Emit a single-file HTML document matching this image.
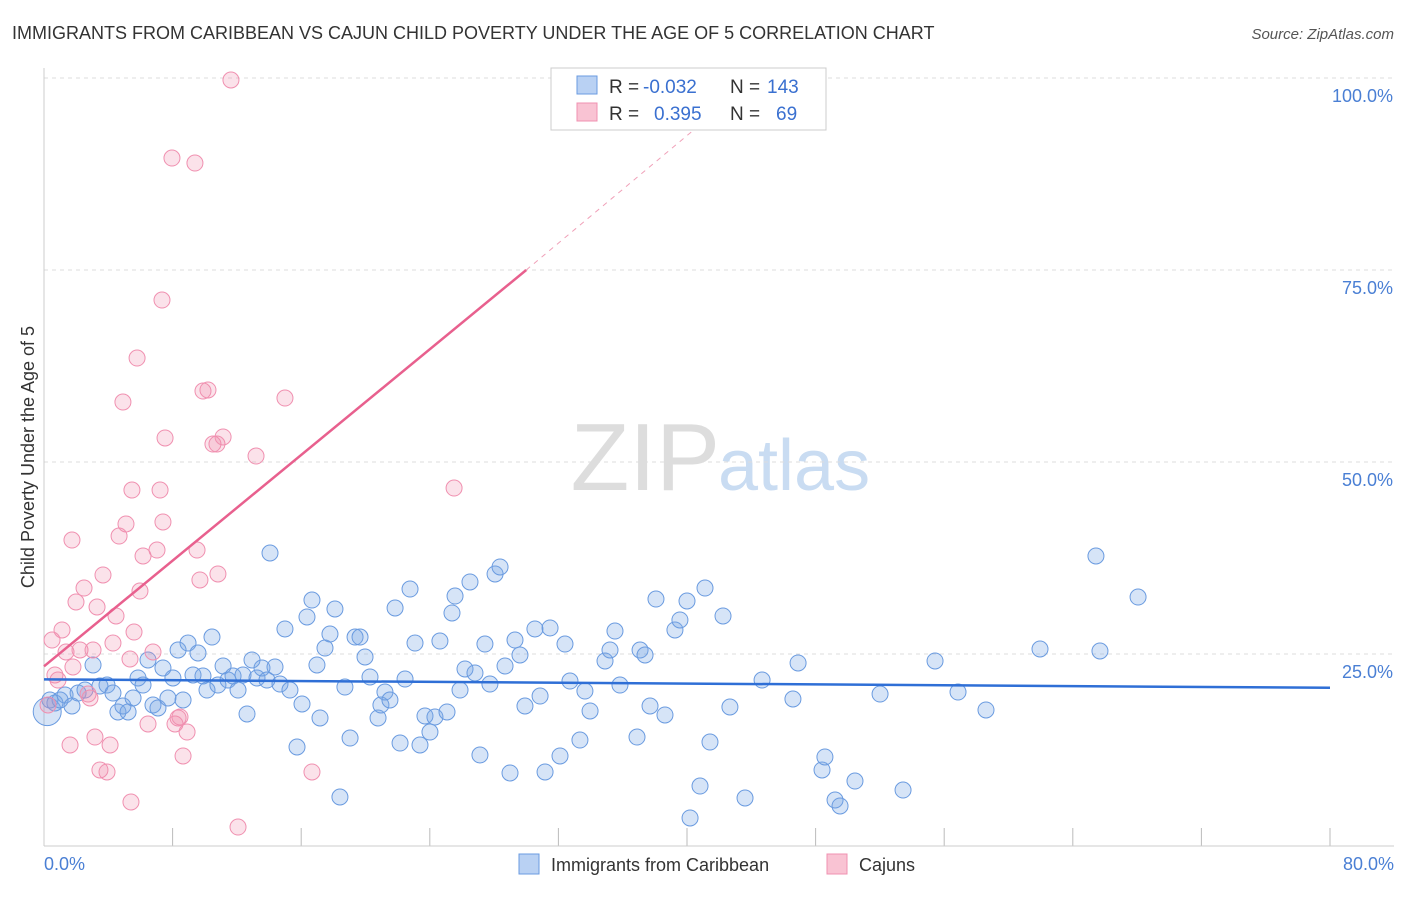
<!DOCTYPE html>
<html><head><meta charset="utf-8"><style>
body{margin:0;background:#fff;font-family:"Liberation Sans",sans-serif;}
svg text{font-family:"Liberation Sans",sans-serif;}
</style></head><body>
<svg width="1406" height="892" id="chart">
<text x="12" y="39" font-size="18" fill="#333">IMMIGRANTS FROM CARIBBEAN VS CAJUN CHILD POVERTY UNDER THE AGE OF 5 CORRELATION CHART</text>
<text x="1394" y="39" font-size="15" fill="#555" text-anchor="end" font-style="italic">Source: ZipAtlas.com</text>
<text x="720" y="490" font-size="96" fill="#ddd" text-anchor="end" font-family="Liberation Serif">ZIP</text>
<text x="718" y="490" font-size="72" fill="#c9dcf2">atlas</text>
<g id="grid"></g>
<line x1="44" y1="68" x2="44" y2="846" stroke="#ccc"/>
<line x1="44" y1="846" x2="1394" y2="846" stroke="#ccc"/>
<text transform="translate(34,457) rotate(-90)" font-size="18" fill="#333" text-anchor="middle">Child Poverty Under the Age of 5</text>
<text x="44" y="870" font-size="18" fill="#4a7fd4">0.0%</text>
<text x="1394" y="870" font-size="18" fill="#4a7fd4" text-anchor="end">80.0%</text>
<g id="pts"></g>
<g id="trends"></g>
<g>
<rect x="551" y="68" width="275" height="62" fill="#fff" stroke="#ccc"/>
<rect x="577" y="76" width="20" height="18" fill="#b9d1f3" stroke="#6a9be0"/>
<rect x="577" y="103" width="20" height="18" fill="#f9c3d3" stroke="#f090b0"/>
<text x="609" y="93" font-size="19" fill="#333">R = </text><text x="643" y="93" font-size="19" fill="#3a70d0">-0.032</text>
<text x="730" y="93" font-size="19" fill="#333">N = </text><text x="767" y="93" font-size="19" fill="#3a70d0">143</text>
<text x="609" y="120" font-size="19" fill="#333">R = </text><text x="654" y="120" font-size="19" fill="#3a70d0">0.395</text>
<text x="730" y="120" font-size="19" fill="#333">N = </text><text x="776" y="120" font-size="19" fill="#3a70d0">69</text>
</g>
<g>
<rect x="519" y="854" width="20" height="20" fill="#b9d1f3" stroke="#6a9be0"/>
<text x="551" y="871" font-size="18" fill="#333">Immigrants from Caribbean</text>
<rect x="827" y="854" width="20" height="20" fill="#f9c3d3" stroke="#f090b0"/>
<text x="859" y="871" font-size="18" fill="#333">Cajuns</text>
</g>
</svg>
<script>
const yTicks=[25,50,75,100];
const xTicks=[0,8,16,24,32,40,48,56,64,72,80];
const bluePx=[[50,700],[55,703],[60,700],[65,695],[72,706],[78,693],[85,690],[93,665],[100,686],[107,685],[113,693],[118,712],[123,706],[128,712],[133,698],[138,678],[143,685],[148,660],[153,705],[158,708],[163,668],[168,698],[173,678],[178,650],[183,700],[188,643],[193,675],[198,653],[203,676],[207,690],[212,637],[218,685],[223,666],[228,680],[233,676],[238,690],[243,675],[247,714],[252,660],[257,678],[262,668],[267,680],[270,553],[275,667],[280,684],[285,629],[290,690],[297,747],[302,704],[307,617],[312,600],[317,665],[320,718],[325,648],[330,634],[335,609],[340,797],[345,687],[350,738],[355,637],[360,637],[365,657],[370,677],[378,718],[381,705],[385,692],[390,700],[395,608],[400,743],[405,679],[410,589],[415,643],[420,745],[425,716],[430,732],[435,717],[440,641],[447,712],[452,613],[455,596],[460,690],[465,669],[470,582],[475,673],[480,755],[485,644],[490,684],[495,574],[500,567],[505,666],[510,773],[515,640],[520,655],[525,706],[535,629],[540,696],[545,772],[550,628],[560,756],[565,644],[570,681],[580,740],[585,691],[590,711],[605,661],[610,650],[615,631],[620,685],[637,737],[640,650],[645,655],[650,706],[656,599],[665,715],[675,630],[680,620],[687,601],[690,818],[700,786],[705,588],[710,742],[723,616],[730,707],[745,798],[762,680],[793,699],[798,663],[822,770],[825,757],[835,800],[840,806],[855,781],[880,694],[903,790],[935,661],[958,692],[986,710],[1040,649],[1096,556],[1100,651],[1138,597]];
const pinkPx=[[48,705],[52,640],[55,675],[58,680],[62,630],[66,652],[70,745],[72,540],[73,667],[76,602],[80,650],[84,588],[88,694],[90,698],[93,650],[95,737],[97,607],[100,770],[103,575],[107,772],[110,745],[113,643],[116,616],[119,536],[123,402],[126,524],[130,659],[131,802],[132,490],[134,632],[137,358],[140,591],[143,556],[148,724],[153,652],[157,550],[160,490],[162,300],[163,522],[165,438],[172,158],[175,724],[178,718],[180,717],[183,756],[187,732],[195,163],[197,550],[200,580],[203,391],[208,390],[213,444],[217,444],[218,574],[223,437],[231,80],[238,827],[256,456],[285,398],[312,772],[454,488]];
// data values (x %, y %)
const blueX=bluePx.map(p=>+((p[0]-44)/1286*80).toFixed(2));
const blueY=bluePx.map(p=>+((846-p[1])/768*100).toFixed(2));
const pinkX=pinkPx.map(p=>+((p[0]-44)/1286*80).toFixed(2));
const pinkY=pinkPx.map(p=>+((846-p[1])/768*100).toFixed(2));
const blueTrend=[[0,21.7],[80,20.6]];
const pinkTrend=[[0,23.4],[30,75],[42,96]];
function sx(v){return 44+v/80*1286;}
function sy(v){return 846-v/100*768;}
const NS='http://www.w3.org/2000/svg';
const grid=document.getElementById('grid');
yTicks.forEach(t=>{
 const l=document.createElementNS(NS,'line');
 l.setAttribute('x1',44);l.setAttribute('x2',1394);l.setAttribute('y1',sy(t));l.setAttribute('y2',sy(t));
 l.setAttribute('stroke','#ddd');l.setAttribute('stroke-dasharray','4,4');
 
 
 grid.appendChild(l);
 const tx=document.createElementNS(NS,'text');
 tx.setAttribute('x',1393);tx.setAttribute('y',sy(t)+24);tx.setAttribute('text-anchor','end');
 tx.setAttribute('font-size','18');tx.setAttribute('fill','#4a7fd4');tx.textContent=t.toFixed(1)+'%';
 
 
 grid.appendChild(tx);
});
xTicks.forEach(t=>{
 const l=document.createElementNS(NS,'line');
 l.setAttribute('x1',sx(t));l.setAttribute('x2',sx(t));l.setAttribute('y1',828);l.setAttribute('y2',846);
 l.setAttribute('stroke','#bbb');
 
 
 grid.appendChild(l);
});
const pts=document.getElementById('pts');
function dot(x,y,fill,stroke,name,r){
 const c=document.createElementNS(NS,'circle');
 c.setAttribute('cx',sx(x));c.setAttribute('cy',sy(y));c.setAttribute('r',r||8);
 c.setAttribute('fill',fill);c.setAttribute('stroke',stroke);c.setAttribute('stroke-width','1');
 
 
 pts.appendChild(c);
}
dot(0.2,17.5,'rgba(120,165,230,0.3)','#6a9be0','blue-point-large',14);
blueX.forEach((x,i)=>dot(x,blueY[i],'rgba(120,165,230,0.3)','#6a9be0','blue-point'));
pinkX.forEach((x,i)=>dot(x,pinkY[i],'rgba(240,140,170,0.25)','#f090b0','pink-point'));
const tr=document.getElementById('trends');
function line(a,b,color,name,dash){
 const l=document.createElementNS(NS,'line');
 l.setAttribute('x1',sx(a[0]));l.setAttribute('y1',sy(a[1]));l.setAttribute('x2',sx(b[0]));l.setAttribute('y2',sy(b[1]));
 l.setAttribute('stroke',color);l.setAttribute('stroke-width',dash?1:2.5);
 if(dash)l.setAttribute('stroke-dasharray','5,5');
 
 
 tr.appendChild(l);
}
line(blueTrend[0],blueTrend[1],'#2f6fd6','blue-trendline');
line(pinkTrend[0],pinkTrend[1],'#e8608e','pink-trendline');
line(pinkTrend[1],pinkTrend[2],'#f0a0b8','pink-trendline-extension',true);
</script>
</body></html>
